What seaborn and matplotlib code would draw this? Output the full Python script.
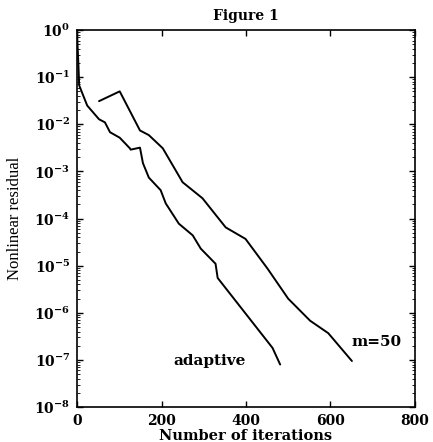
import numpy as np
import pandas as pd
import matplotlib
matplotlib.use("Agg")
import matplotlib.pyplot as plt
import seaborn as sns

# values
adaptive_iters = [0, 1, 3, 5, 24, 52, 66, 78, 101, 125, 127, 149, 156, 170, 198, 210,
                  241, 274, 293, 328, 333, 463, 481]
adaptive_resid = [1.0, 0.5, 0.2, 0.067, 0.025, 0.0128, 0.011, 0.0068, 0.0052, 0.0031,
                  0.0029, 0.0032, 0.0015, 7.4e-4, 4.0e-4, 2.1e-4, 7.8e-5, 4.4e-5, 2.3e-5,
                  1.1e-5, 5.5e-6, 1.8e-7, 8e-8]
m50_iters = [52, 101, 149, 170, 203, 250, 297, 352, 399, 451, 500, 552, 595, 651]
m50_resid = [0.031, 0.05, 0.0074, 0.0059, 0.0031, 5.9e-4, 2.7e-4, 6.5e-5, 3.7e-5,
             8.7e-6, 2.0e-6, 6.8e-7, 3.7e-7, 9.5e-8]

df = pd.concat([
    pd.DataFrame({"iters": adaptive_iters, "resid": adaptive_resid, "run": "adaptive"}),
    pd.DataFrame({"iters": m50_iters, "resid": m50_resid, "run": "m=50"}),
])

sns.set_style("ticks")
plt.rcParams["font.family"] = ["DejaVu Serif"]
plt.rcParams["font.weight"] = "bold"
plt.rcParams["text.color"] = "black"
plt.rcParams["axes.labelcolor"] = "black"
plt.rcParams["xtick.color"] = "black"
plt.rcParams["ytick.color"] = "black"
plt.rcParams["mathtext.fontset"] = "custom"
plt.rcParams["mathtext.rm"] = "DejaVu Serif:bold"
plt.rcParams["mathtext.it"] = "DejaVu Serif:bold"
plt.rcParams["mathtext.bf"] = "DejaVu Serif:bold"

fig = plt.figure(figsize=(4.33, 4.42), dpi=100)
ax = fig.add_axes([0.178, 0.079, 0.780, 0.853])

sns.lineplot(data=df, x="iters", y="resid", units="run", estimator=None,
             color="black", linewidth=1.4, sort=False, ax=ax)

ax.set_yscale("log")
ax.set_xlim(0, 800)
ax.set_ylim(1e-8, 1e0)
ax.set_xticks([0, 200, 400, 600, 800])
ax.set_yticks([10.0 ** k for k in range(-8, 1)])

ax.tick_params(which="both", direction="in", top=True, right=True,
               colors="black", labelcolor="black")
ax.tick_params(which="major", length=4, width=1.0, labelsize=10, pad=5)
ax.tick_params(which="minor", length=2, width=0.6)
for s in ax.spines.values():
    s.set_linewidth(1.2)
    s.set_color("black")

ax.set_title("Figure 1", fontsize=10, fontweight="bold", pad=7, color="black")
ax.set_xlabel("Number of iterations", fontsize=10.5, fontweight="bold", labelpad=1,
              color="black")
ax.set_ylabel("Nonlinear residual", fontsize=12, fontweight="normal",
              family=["Liberation Serif"], labelpad=8, color="black")

ax.text(315, 9.5e-8, "adaptive", ha="center", va="center", fontsize=11,
        fontweight="bold", color="black")
ax.text(651, 2.4e-7, "m=50", ha="left", va="center", fontsize=11,
        fontweight="bold", color="black")

fig.savefig("out.png", dpi=100)
